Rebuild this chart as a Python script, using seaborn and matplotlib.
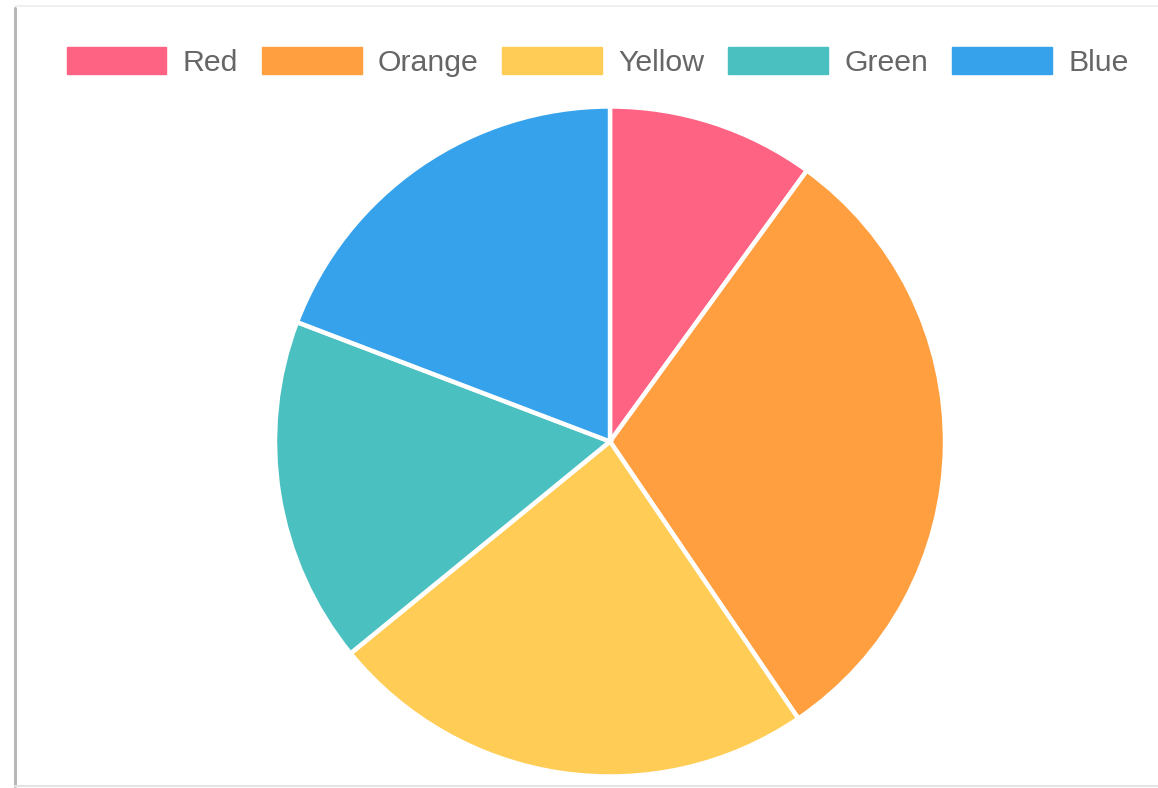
import matplotlib
matplotlib.use("Agg")
import matplotlib.pyplot as plt
from matplotlib.patches import Patch
from matplotlib.lines import Line2D
import seaborn as sns

categories = ["Red", "Orange", "Yellow", "Green", "Blue"]
values = [10.0, 30.5, 23.6, 16.7, 19.2]
colors = ["#ff6384", "#ff9f40", "#ffcd56", "#4bc0c0", "#36a2eb"]

sns.set_theme(style="white")
plt.rcParams["font.family"] = ["Liberation Sans", "DejaVu Sans"]
palette = sns.color_palette(colors)

W, H = 1158, 788
fig = plt.figure(figsize=(W / 100, H / 100), dpi=100)
fig.patch.set_facecolor("white")

# pie area: centre (610, 441.5) px, radius 335 px
cx, cy, r = 610, 441.5, 335
ax = fig.add_axes([(cx - r) / W, (H - cy - r) / H, 2 * r / W, 2 * r / H])
ax.pie(values, colors=palette, startangle=90, counterclock=False,
       wedgeprops=dict(edgecolor="white", linewidth=3.2), radius=1.0)
ax.set_xlim(-1.0, 1.0)
ax.set_ylim(-1.0, 1.0)
ax.set_aspect("equal")
ax.axis("off")

# card outline
fig.add_artist(Line2D([15 / W, 15 / W], [1 - 8 / H, 1 - 786 / H], transform=fig.transFigure,
                      color="#b8b8b8", lw=2.2))
fig.add_artist(Line2D([15 / W, 1], [1 - 6 / H, 1 - 6 / H], transform=fig.transFigure,
                      color="#ececec", lw=1.2))
fig.add_artist(Line2D([15 / W, 1], [1 - 786 / H, 1 - 786 / H], transform=fig.transFigure,
                      color="#e4e4e4", lw=1.5))

handles = [Patch(facecolor=c, edgecolor=c, label=l) for c, l in zip(palette, categories)]
fig.legend(handles=handles, loc="center", bbox_to_anchor=(597.5 / W, 1 - 62 / H),
           ncol=5, frameon=False, fontsize=21.8, labelcolor="#666666",
           handlelength=3.3, handleheight=1.0, handletextpad=0.53,
           columnspacing=0.79, borderpad=0)

fig.savefig("out.png", dpi=100, facecolor="white")
